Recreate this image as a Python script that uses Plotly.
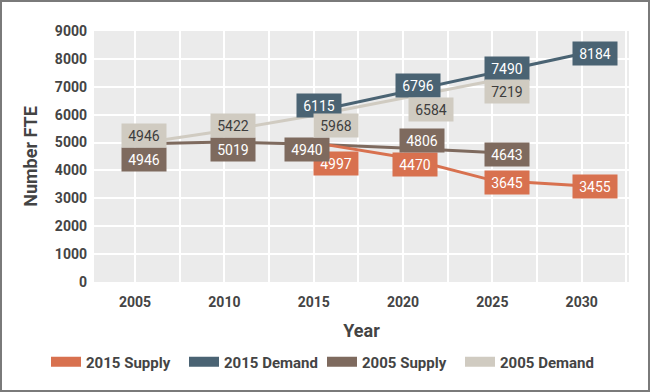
import plotly.graph_objects as go

# ---- data ----
years_2015 = [2015, 2020, 2025, 2030]
years_2005 = [2005, 2010, 2015, 2020, 2025]
supply_2015 = [4997, 4470, 3645, 3455]
demand_2015 = [6115, 6796, 7490, 8184]
supply_2005 = [4946, 5019, 4940, 4806, 4643]
demand_2005 = [4946, 5422, 5968, 6584, 7219]
x_tick_vals = [2005, 2010, 2015, 2020, 2025, 2030]
x_tick_text = ["2005", "2010", "2015", "2020", "2025", "2030"]
y_tick_vals = [0, 1000, 2000, 3000, 4000, 5000, 6000, 7000, 8000, 9000]

# ---- styles / label offsets (pixels: dx right, dy down) ----
C_SUP15 = "#d8714f"
C_DEM15 = "#4a6373"
C_SUP05 = "#7e6a5e"
C_DEM05 = "#d0cbc1"
TXT = "#444444"
FONT = "Roboto, Arial, sans-serif"

off_sup15 = [(22, 21), (12, 7), (15, 2), (13, 1)]
off_dem15 = [(5, -6), (15, -7), (15, -5), (13, 0)]
off_sup05 = [(9, 15), (9, 7), (-7, 5), (19, -7), (15, 2)]
off_dem05 = [(9, -9), (9, -5), (22, 10), (28, 11), (15, 11)]

series = [
    # name, x, y, color, text color, offsets
    ("2005 Demand", years_2005, demand_2005, C_DEM05, "#3d3d3d", off_dem05),
    ("2005 Supply", years_2005, supply_2005, C_SUP05, "white", off_sup05),
    ("2015 Supply", years_2015, supply_2015, C_SUP15, "white", off_sup15),
    ("2015 Demand", years_2015, demand_2015, C_DEM15, "white", off_dem15),
]

fig = go.Figure()
for name, xs, ys, col, tc, off in series:
    fig.add_trace(go.Scatter(x=xs, y=ys, mode="lines", name=name,
                             line=dict(color=col, width=3),
                             showlegend=False, hoverinfo="skip"))

# legend-only swatches
legend_order = [("2015 Supply", C_SUP15), ("2015 Demand", C_DEM15),
                ("2005 Supply", C_SUP05), ("2005 Demand", C_DEM05)]
for name, col in legend_order:
    fig.add_trace(go.Scatter(x=[None], y=[None], mode="lines", name=name,
                             line=dict(color=col, width=10)))

# value boxes (drawn in order so later ones sit on top)
ann_order = [series[2], series[3], series[1], series[0]]
annotations = []
for name, xs, ys, col, tc, off in ann_order:
    for xv, yv, (dx, dy) in zip(xs, ys, off):
        annotations.append(dict(
            x=xv, y=yv, xref="x", yref="y", text=str(yv), showarrow=False,
            xshift=dx, yshift=-dy, bgcolor=col, width=42, height=21,
            borderpad=1, font=dict(family=FONT, size=14, color=tc),
            align="center", valign="middle"))

L, R, T, B = 94, 21, 31, 110
W, H = 650, 392
pw, ph = W - L - R, H - T - B

fig.update_layout(
    width=W, height=H,
    margin=dict(l=L, r=R, t=T, b=B),
    paper_bgcolor="white",
    plot_bgcolor="#ebebeb",
    font=dict(family=FONT, color=TXT),
    annotations=annotations,
    showlegend=True,
    legend=dict(orientation="h", x=(46 - L) / pw, xanchor="left",
                y=(H - B - 362) / ph, yanchor="middle",
                font=dict(family=FONT, size=15, color=TXT, weight="bold"),
                itemwidth=30, traceorder="normal", bgcolor="rgba(0,0,0,0)",
                entrywidth=93, entrywidthmode="pixels"),
    xaxis=dict(range=[2002.7, 2032.65], tickvals=x_tick_vals, ticktext=x_tick_text,
               showgrid=True, gridcolor="white", gridwidth=1.5,
               minor=dict(showgrid=True, gridcolor="white", gridwidth=1.5,
                          tick0=2002.5, dtick=2.5),
               zeroline=False, showline=False, ticks="",
               ticklabelstandoff=10,
               tickfont=dict(family=FONT, size=14, color=TXT, weight="bold"),
               title=dict(text="Year", standoff=15,
                          font=dict(family=FONT, size=18, color=TXT, weight="bold"))),
    yaxis=dict(range=[0, 9000], tickvals=y_tick_vals,
               showgrid=True, gridcolor="white", gridwidth=1.5,
               zeroline=False, showline=False, ticks="",
               ticklabelstandoff=6,
               tickfont=dict(family=FONT, size=14, color=TXT, weight="bold"),
               title=dict(text="Number FTE", standoff=12,
                          font=dict(family=FONT, size=18, color=TXT, weight="bold"))),
    shapes=[dict(type="rect", xref="paper", yref="paper",
                 x0=(1 - L) / pw, x1=(649 - L) / pw,
                 y0=(H - B - 391) / ph, y1=(H - B - 1) / ph,
                 line=dict(color="#7a7a7a", width=2), layer="below")],
)

fig.write_html("out.html", config={"displayModeBar": False},
               post_script="document.body.style.margin='0';document.body.style.overflow='hidden';")
